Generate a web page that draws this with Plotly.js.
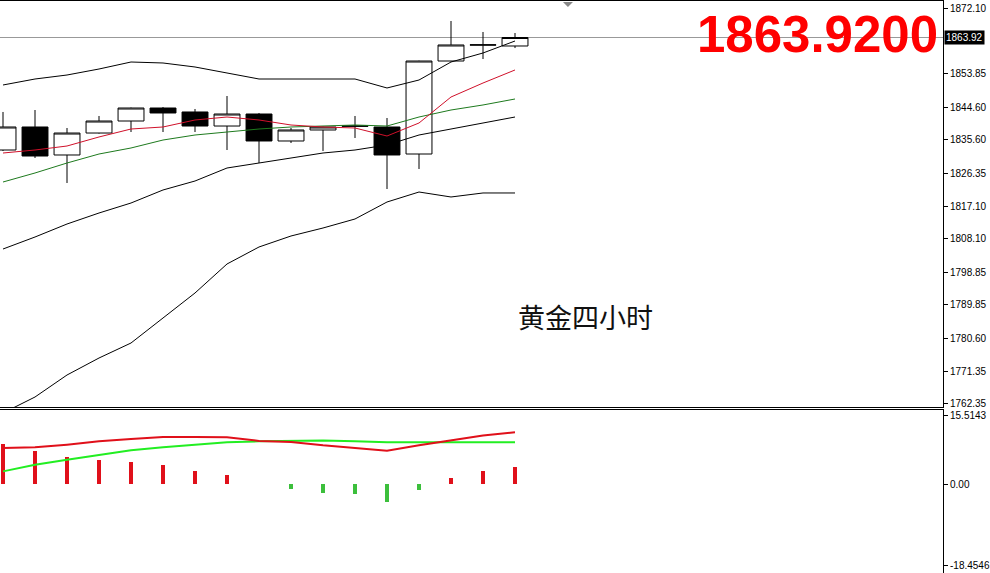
<!DOCTYPE html>
<html><head><meta charset="utf-8">
<script src="https://cdn.plot.ly/plotly-3.0.1.min.js"></script>
<style>html,body{margin:0;padding:0;background:#fff}#chart{width:990px;height:573px}</style>
</head><body><div id="chart"></div>
<script>
// Candles (4-hour gold)
const openP  = [1832.74,1839.12,1831.36,1837.45,1840.78,1844.38,1843.28,1839.39,1842.72,1835.24,1838.29,1839.30,1839.12,1831.63,1857.41,1861.80,1861.57];
const highP  = [1843.28,1843.83,1838.84,1842.17,1844.50,1844.66,1844.11,1847.71,1843.00,1838.84,1839.20,1842.17,1841.61,1857.50,1868.50,1865.45,1865.17];
const lowP   = [1832.46,1830.53,1823.60,1837.30,1837.73,1837.73,1837.73,1832.74,1829.14,1834.68,1832.47,1836.07,1821.93,1827.48,1857.30,1857.96,1861.00];
const closeP = [1839.12,1831.08,1837.45,1840.78,1844.38,1843.00,1839.39,1842.72,1835.24,1838.29,1839.12,1839.40,1831.36,1857.41,1861.85,1861.90,1863.92];
// Bollinger bands
const bbUpper  = [1850.76,1852.42,1853.53,1855.19,1857.13,1856.86,1855.75,1854.08,1852.42,1852.42,1852.42,1852.42,1849.93,1852.14,1857.13,1859.63,1862.95];
const bbMiddle = [1805.30,1808.63,1812.23,1815.28,1818.05,1821.66,1824.15,1827.75,1829.14,1830.53,1831.91,1832.74,1834.13,1836.90,1838.56,1840.23,1841.89];
const bbLower  = [1759.85,1764.28,1770.38,1775.09,1779.25,1786.18,1793.11,1801.15,1805.86,1808.91,1811.12,1813.62,1818.33,1821.10,1819.72,1820.83,1820.83];
// Moving averages
const maRed   = [1831.91,1832.74,1833.85,1836.35,1838.56,1839.12,1841.06,1841.89,1841.06,1839.67,1839.12,1838.84,1836.62,1840.23,1847.43,1851.31,1854.92];
const maGreen = [1823.87,1826.37,1829.14,1831.63,1833.30,1835.51,1836.90,1837.73,1838.56,1839.12,1839.39,1839.67,1839.39,1841.89,1843.83,1845.22,1846.88];
// MACD pane
const macdHist  = [9.17,7.43,6.16,5.55,5.10,4.42,3.06,2.15,0.15,-0.97,-1.97,-2.30,-3.96,-1.20,1.47,2.90,4.00];
const macdRed   = [8.20,8.33,8.94,9.69,10.24,10.69,10.69,10.60,9.78,9.56,8.79,8.20,7.59,8.79,9.92,10.98,11.73];
const macdGreen = [2.90,4.42,5.55,6.68,7.65,8.33,8.94,9.47,9.69,9.85,9.90,9.70,9.50,9.50,9.50,9.50,9.50];
// Axis tick labels
const priceTicks = [1872.10,1853.85,1844.60,1835.60,1826.35,1817.10,1808.10,1798.85,1789.85,1780.60,1771.35,1762.35];
const macdTicks = [15.5143, 0, -18.4546];
const macdTickText = ['15.5143','0.00','-18.4546'];
const chartTitle = '黄金四小时';

const idx = closeP.map((_, i) => i);
const lastClose = closeP[closeP.length - 1];
const tickFont = {family: 'Liberation Sans, Arial, sans-serif', size: 10, color: '#000'};

const traces = [
  {type: 'candlestick', x: idx, open: openP, high: highP, low: lowP, close: closeP,
   xaxis: 'x', yaxis: 'y', whiskerwidth: 0, hoverinfo: 'skip',
   increasing: {line: {color: '#000', width: 1}, fillcolor: '#fff'},
   decreasing: {line: {color: '#000', width: 1}, fillcolor: '#000'}},
  {type: 'scatter', mode: 'lines', x: idx, y: bbUpper, line: {color: '#000', width: 1}, xaxis: 'x', yaxis: 'y'},
  {type: 'scatter', mode: 'lines', x: idx, y: bbMiddle, line: {color: '#000', width: 1}, xaxis: 'x', yaxis: 'y'},
  {type: 'scatter', mode: 'lines', x: idx, y: bbLower, line: {color: '#000', width: 1}, xaxis: 'x', yaxis: 'y'},
  {type: 'scatter', mode: 'lines', x: idx, y: maGreen, line: {color: '#1e7a1e', width: 1}, xaxis: 'x', yaxis: 'y'},
  {type: 'scatter', mode: 'lines', x: idx, y: maRed, line: {color: '#d0102a', width: 1}, xaxis: 'x', yaxis: 'y'},
  {type: 'bar', x: idx, y: macdHist, width: 0.1, xaxis: 'x2', yaxis: 'y2',
   marker: {color: macdHist.map(v => v >= 0 ? '#e0101a' : '#3cbf3c'), line: {width: 0}}},
  {type: 'scatter', mode: 'lines', x: idx, y: macdGreen, line: {color: '#22ee22', width: 2}, xaxis: 'x2', yaxis: 'y2'},
  {type: 'scatter', mode: 'lines', x: idx, y: macdRed, line: {color: '#e0101a', width: 2}, xaxis: 'x2', yaxis: 'y2'}
];

const axBase = {showgrid: false, zeroline: false, showline: true, linecolor: '#000', linewidth: 1};
const layout = {
  width: 990, height: 573,
  margin: {l: 0, r: 47, t: 1, b: 0},
  paper_bgcolor: '#fff', plot_bgcolor: '#fff',
  showlegend: false, hovermode: false,
  boxgap: 0.1, boxgroupgap: 0.1, bargap: 0,
  xaxis: Object.assign({}, axBase, {domain: [0, 1], anchor: 'y', range: [-0.094, 29.375], mirror: true,
    showticklabels: false, ticks: '', rangeslider: {visible: false}}),
  yaxis: Object.assign({}, axBase, {domain: [0.2902, 1], anchor: 'x', side: 'right', range: [1761.51, 1874.04],
    ticks: 'outside', ticklen: 4, tickcolor: '#000', tickvals: priceTicks,
    ticktext: priceTicks.map(v => v.toFixed(2)), tickfont: tickFont}),
  xaxis2: Object.assign({}, axBase, {domain: [0, 1], anchor: 'y2', matches: 'x', mirror: true,
    showticklabels: false, ticks: ''}),
  yaxis2: Object.assign({}, axBase, {domain: [0, 0.2858], anchor: 'x2', side: 'right', range: [-20.04, 16.87],
    ticks: 'outside', ticklen: 4, tickcolor: '#000', tickvals: macdTicks, ticktext: macdTickText, tickfont: tickFont}),
  shapes: [
    {type: 'line', xref: 'paper', x0: 0, x1: 1, yref: 'y', y0: lastClose, y1: lastClose,
     line: {color: '#999', width: 1}, layer: 'below'},
    {type: 'path', xref: 'paper', yref: 'paper', path: 'M 0.5970 0.99825 L 0.6076 0.99825 L 0.6023 0.98951 Z',
     fillcolor: '#888', line: {width: 0}}
  ],
  annotations: [
    {xref: 'paper', yref: 'y', x: 1, y: lastClose, xanchor: 'left', yanchor: 'middle', xshift: 1,
     text: lastClose.toFixed(2), showarrow: false, bgcolor: '#000', borderpad: 1,
     font: {family: 'Liberation Sans, Arial, sans-serif', size: 10, color: '#fff'}},
    {xref: 'paper', yref: 'paper', x: 0.9968, y: 0.9406, xanchor: 'right', yanchor: 'middle',
     text: '<b>' + lastClose.toFixed(4) + '</b>', showarrow: false,
     font: {family: 'Liberation Sans, Arial, sans-serif', size: 51, color: '#ff0000'}},
    {xref: 'paper', yref: 'paper', x: 0.6214, y: 0.4493, xanchor: 'center', yanchor: 'middle',
     text: chartTitle, showarrow: false,
     font: {family: 'Noto Sans CJK SC, sans-serif', size: 27, color: '#111'}}
  ]
};

Plotly.newPlot('chart', traces, layout, {displayModeBar: false, staticPlot: true});
</script>
</body></html>
